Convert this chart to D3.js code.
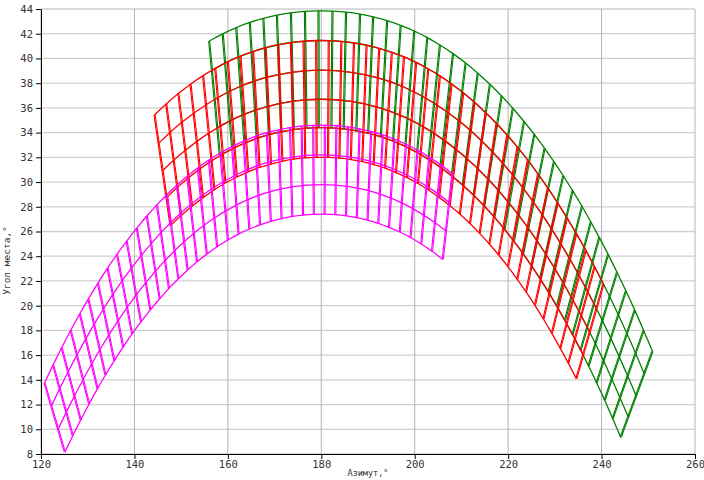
<!DOCTYPE html>
<html>
<head>
<meta charset="utf-8">
<script src="https://cdn.jsdelivr.net/npm/d3@7"></script>
<style>
  body { margin: 0; background: #fff; }
  .axis text { font-family: "DejaVu Sans Mono", monospace; font-size: 10.5px; fill: #333; }
  .axis path, .axis line { stroke: #000; }
  .title { font-family: "DejaVu Sans Mono", monospace; fill: #333; }
</style>
</head>
<body>
<div id="chart"></div>
<script>
var xTicks = [120, 140, 160, 180, 200, 220, 240, 260];
var yTicks = [8, 10, 12, 14, 16, 18, 20, 22, 24, 26, 28, 30, 32, 34, 36, 38, 40, 42, 44];

// green grid: crossline ends on the outer / inner arc, plus the arcs between
var greenTop = [[156.0,41.41],[158.9,41.99],[161.8,42.50],[164.7,42.91],[167.6,43.24],[170.5,43.50],[173.5,43.69],[176.5,43.81],[179.4,43.85],[182.4,43.83],[185.3,43.75],[188.3,43.59],[191.1,43.37],[194.1,43.06],[197.0,42.68],[199.9,42.22],[202.7,41.69],[205.4,41.09],[208.2,40.39],[210.9,39.63],[213.5,38.81],[216.1,37.91],[218.6,36.96],[221.0,35.97],[223.4,34.90],[225.6,33.85],[227.8,32.73],[229.8,31.65],[231.8,30.51],[233.8,29.30],[235.8,28.04],[237.7,26.77],[239.5,25.52],[241.4,24.15],[243.3,22.70],[245.2,21.20],[247.1,19.64],[249.0,18.00],[250.9,16.31]];
var greenBottom = [[158.30,32.13],[160.93,32.68],[163.55,33.14],[166.17,33.53],[168.79,33.83],[171.41,34.07],[174.12,34.25],[176.84,34.36],[179.46,34.40],[182.17,34.38],[184.79,34.30],[187.50,34.15],[190.03,33.95],[192.75,33.66],[195.37,33.31],[197.99,32.88],[200.52,32.39],[202.96,31.85],[205.49,31.20],[207.93,30.50],[210.28,29.75],[212.63,28.93],[214.89,28.06],[217.06,27.16],[219.23,26.18],[221.22,25.22],[223.21,24.20],[225.02,23.22],[226.83,22.18],[228.64,21.09],[230.44,19.94],[232.16,18.80],[233.79,17.66],[235.51,16.41],[237.22,15.12],[238.94,13.76],[240.66,12.35],[242.38,10.87],[244.09,9.35]];
var greenMid = [
  [[156.59,39.04],[162,40.08],[168,40.86],[174,41.31],[180,41.45],[186,41.31],[192,40.86],[198,40.08],[204,38.92],[210,37.34],[216,35.32],[222,32.82],[228,29.80],[234,26.22],[240,22.06],[246,17.27],[249.16,14.47]],
  [[157.18,36.69],[162,37.63],[168,38.44],[174,38.90],[180,39.05],[186,38.90],[192,38.44],[198,37.63],[204,36.42],[210,34.79],[216,32.69],[222,30.10],[228,26.96],[234,23.25],[240,18.93],[246,13.96],[247.43,12.66]],
  [[157.75,34.39],[162,35.23],[168,36.07],[174,36.55],[180,36.70],[186,36.55],[192,36.07],[198,35.23],[204,33.98],[210,32.29],[216,30.13],[222,27.44],[228,24.20],[234,20.36],[240,15.89],[245.72,10.99]]
];

// red grid
var redTop = [[144.3,35.43],[146.8,36.32],[149.4,37.16],[152.0,37.92],[154.7,38.61],[157.3,39.20],[160.0,39.74],[162.7,40.19],[165.4,40.56],[168.1,40.87],[170.8,41.11],[173.5,41.28],[176.2,41.39],[178.9,41.45],[181.6,41.44],[184.3,41.38],[187.0,41.26],[189.7,41.07],[192.4,40.82],[195.1,40.50],[197.7,40.12],[200.3,39.68],[202.9,39.15],[205.4,38.59],[207.9,37.94],[210.4,37.22],[212.8,36.45],[215.2,35.61],[217.5,34.74],[219.8,33.79],[222.0,32.82],[224.2,31.77],[226.4,30.65],[228.5,29.52],[230.6,28.31],[232.6,27.10],[234.6,25.83],[236.6,24.49],[238.5,23.15],[240.4,21.75]];
var redBottom = [[147.73,26.48],[149.99,27.29],[152.34,28.05],[154.69,28.74],[157.13,29.38],[159.48,29.92],[161.92,30.41],[164.36,30.83],[166.80,31.18],[169.24,31.46],[171.68,31.68],[174.12,31.85],[176.56,31.95],[179.01,32.00],[181.45,31.99],[183.89,31.93],[186.33,31.82],[188.77,31.65],[191.21,31.41],[193.65,31.12],[196.00,30.77],[198.35,30.36],[200.70,29.88],[202.96,29.36],[205.22,28.76],[207.48,28.11],[209.65,27.41],[211.82,26.64],[213.90,25.85],[215.98,24.99],[217.97,24.10],[219.96,23.15],[221.95,22.13],[223.84,21.11],[225.74,20.02],[227.55,18.92],[229.36,17.76],[231.17,16.55],[232.88,15.35],[234.60,14.09]];
var redMid = [
  [[145.17,33.13],[150,34.79],[156,36.42],[162,37.63],[168,38.44],[174,38.90],[180,39.05],[186,38.90],[192,38.44],[198,37.63],[204,36.42],[210,34.79],[216,32.69],[222,30.10],[228,26.96],[234,23.25],[238.92,19.74]],
  [[146.03,30.92],[150,32.29],[156,33.98],[162,35.23],[168,36.07],[174,36.55],[180,36.70],[186,36.55],[192,36.07],[198,35.23],[204,33.98],[210,32.29],[216,30.13],[222,27.44],[228,24.20],[234,20.36],[237.47,17.84]],
  [[146.87,28.74],[150,29.85],[156,31.59],[162,32.88],[168,33.75],[174,34.24],[180,34.40],[186,34.24],[192,33.75],[198,32.88],[204,31.59],[210,29.85],[216,27.61],[222,24.83],[228,21.48],[234,17.52],[236.05,16.01]]
];

// magenta grid
var magentaTop = [[120.75,13.75],[122.59,15.21],[124.42,16.60],[126.36,18.01],[128.31,19.35],[130.14,20.55],[132.19,21.83],[134.24,23.03],[136.29,24.16],[138.34,25.22],[140.50,26.27],[142.66,27.25],[144.82,28.15],[146.98,28.99],[149.13,29.76],[151.29,30.47],[153.56,31.15],[155.93,31.78],[158.42,32.37],[160.90,32.87],[163.38,33.31],[165.86,33.69],[168.34,33.99],[170.83,34.22],[173.31,34.41],[175.79,34.52],[178.27,34.59],[180.76,34.60],[183.24,34.56],[185.72,34.46],[188.20,34.31],[190.68,34.09],[193.17,33.81],[195.65,33.47],[198.13,33.06],[200.61,32.58],[203.10,32.02],[205.58,31.39],[208.06,30.67]];
var magentaBottom = [[125.1,8.15],[126.8,9.48],[128.5,10.76],[130.3,12.05],[132.1,13.29],[133.8,14.39],[135.7,15.56],[137.6,16.67],[139.5,17.71],[141.4,18.69],[143.4,19.66],[145.4,20.56],[147.4,21.40],[149.4,22.18],[151.4,22.89],[153.4,23.55],[155.5,24.17],[157.7,24.76],[160.0,25.31],[162.3,25.79],[164.6,26.20],[166.9,26.54],[169.2,26.82],[171.5,27.05],[173.8,27.22],[176.1,27.33],[178.4,27.39],[180.7,27.40],[183.0,27.36],[185.3,27.27],[187.6,27.12],[189.9,26.92],[192.2,26.66],[194.5,26.34],[196.8,25.96],[199.1,25.51],[201.4,24.99],[203.7,24.40],[206.0,23.74]];
var magentaMid = [
  [[122.20,11.86],[126,14.80],[132,18.89],[138,22.34],[144,25.20],[150,27.51],[156,29.31],[162,30.63],[168,31.53],[174,32.04],[180,32.20],[186,32.04],[192,31.53],[198,30.63],[204,29.31],[207.37,28.35]],
  [[123.65,9.98],[126,11.83],[132,16.05],[138,19.62],[144,22.57],[150,24.95],[156,26.81],[162,28.18],[168,29.11],[174,29.63],[180,29.80],[186,29.63],[192,29.11],[198,28.18],[204,26.81],[206.69,26.04]]
];

var margin = {top: 9, right: 9, bottom: 26, left: 41},
    width = 704 - margin.left - margin.right,
    height = 480 - margin.top - margin.bottom;

var svg = d3.select("#chart")
  .append("svg")
    .attr("width", 704)
    .attr("height", 480)
  .append("g")
    .attr("transform", "translate(" + margin.left + "," + margin.top + ")");

var x = d3.scaleLinear().domain([120, 260]).range([0, width]);
var y = d3.scaleLinear().domain([8, 44]).range([height, 0]);

// grid
svg.append("g").selectAll("line")
  .data(yTicks).enter().append("line")
    .attr("x1", 0).attr("x2", width)
    .attr("y1", function(d) { return y(d); })
    .attr("y2", function(d) { return y(d); })
    .attr("stroke", "#cfcfcf").attr("stroke-width", 1.3);
svg.append("g").selectAll("line")
  .data(xTicks).enter().append("line")
    .attr("y1", 0).attr("y2", height)
    .attr("x1", function(d) { return x(d); })
    .attr("x2", function(d) { return x(d); })
    .attr("stroke", "#b4b4b4").attr("stroke-width", 1);

var arc = d3.line()
  .x(function(d) { return x(d[0]); })
  .y(function(d) { return y(d[1]); })
  .curve(d3.curveCatmullRom.alpha(0.5));

// each crossline is a pair of close thin strokes
var offsets = [-0.55, 0.55];

function drawGrid(top, bottom, mid, color) {
  var g = svg.append("g");
  var cross = [];
  top.forEach(function(t, i) {
    offsets.forEach(function(o) { cross.push({a: t, b: bottom[i], o: o}); });
  });
  g.selectAll(".cross")
    .data(cross).enter().append("line")
      .attr("x1", function(d) { return x(d.a[0]) + d.o; })
      .attr("y1", function(d) { return y(d.a[1]); })
      .attr("x2", function(d) { return x(d.b[0]) + d.o; })
      .attr("y2", function(d) { return y(d.b[1]); })
      .attr("stroke", color).attr("stroke-width", 1.1);
  g.selectAll(".arc")
    .data([top, bottom].concat(mid)).enter().append("path")
      .attr("d", arc)
      .attr("fill", "none")
      .attr("stroke", color).attr("stroke-width", 1.3);
}

drawGrid(greenTop, greenBottom, greenMid, "#008000");
drawGrid(redTop, redBottom, redMid, "#ff0000");
drawGrid(magentaTop, magentaBottom, magentaMid, "#ff00ff");

// axes
svg.append("g")
  .attr("class", "axis")
  .attr("transform", "translate(0," + height + ")")
  .call(d3.axisBottom(x).tickValues(xTicks).tickSize(5).tickSizeOuter(0).tickPadding(2));
svg.append("g")
  .attr("class", "axis")
  .call(d3.axisLeft(y).tickValues(yTicks).tickSize(5).tickSizeOuter(0).tickPadding(3));

svg.append("text")
  .attr("class", "title")
  .attr("font-size", "8.5px")
  .attr("x", width / 2)
  .attr("y", height + 22)
  .attr("text-anchor", "middle")
  .text("Азимут,°");
svg.append("text")
  .attr("class", "title")
  .attr("font-size", "9.5px")
  .attr("transform", "translate(" + (-31) + "," + (height / 2 + 29) + ") rotate(-90)")
  .attr("text-anchor", "middle")
  .text("Угол места,°");
</script>
</body>
</html>
